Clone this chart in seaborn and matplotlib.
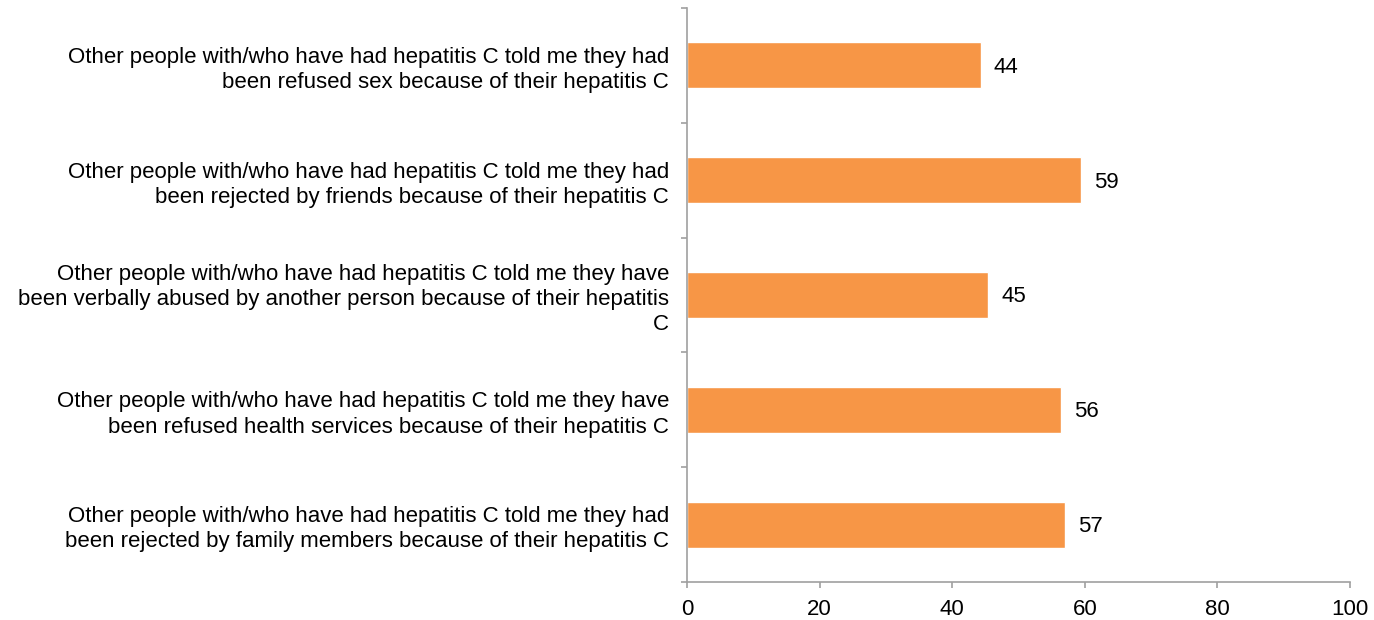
import matplotlib
matplotlib.use("Agg")
import matplotlib.pyplot as plt
import seaborn as sns
import pandas as pd
from matplotlib.ticker import FixedLocator

categories = [
    "Other people with/who have had hepatitis C told me they had\nbeen refused sex because of their hepatitis C",
    "Other people with/who have had hepatitis C told me they had\nbeen rejected by friends because of their hepatitis C",
    "Other people with/who have had hepatitis C told me they have\nbeen verbally abused by another person because of their hepatitis\nC",
    "Other people with/who have had hepatitis C told me they have\nbeen refused health services because of their hepatitis C",
    "Other people with/who have had hepatitis C told me they had\nbeen rejected by family members because of their hepatitis C",
]
values = [44.3, 59.4, 45.4, 56.4, 57.0]
value_labels = ["44", "59", "45", "56", "57"]
x_ticks = [0, 20, 40, 60, 80, 100]

sns.set_style("white")
plt.rcParams["font.family"] = ["Liberation Sans", "DejaVu Sans"]
plt.rcParams["xtick.bottom"] = True
plt.rcParams["ytick.left"] = True

df = pd.DataFrame({"category": categories, "value": values})

fig = plt.figure(figsize=(13.74, 6.2), dpi=100)
ax = fig.add_axes([687 / 1374, 1 - 582 / 620, (1350 - 687) / 1374, (582 - 8) / 620])

sns.barplot(data=df, x="value", y="category", orient="h", color="#F79646",
            saturation=1, width=0.4, ax=ax)

ax.set_xlim(0, 100)
ax.set_ylim(len(categories) - 0.5, -0.5)
ax.set_xticks(x_ticks)
ax.set_xticklabels([str(t) for t in x_ticks], fontsize=16, color="black")
ax.set_xlabel("")
ax.set_ylabel("")

# y labels at category centers without tick marks; tick marks at boundaries
ax.set_yticks(range(len(categories)))
ax.set_yticklabels(categories, fontsize=16, color="black", ha="right",
                   multialignment="right", linespacing=1.27)
ax.tick_params(axis="y", which="major", left=True, length=0, pad=13)
ax.yaxis.set_minor_locator(FixedLocator([i - 0.5 for i in range(len(categories) + 1)]))
ax.tick_params(axis="y", which="minor", left=True, length=4, width=1.2, color="#A0A0A0", direction="out")
ax.tick_params(axis="x", which="major", bottom=True, length=4, width=1.2, color="#A0A0A0",
               direction="out", pad=8)

for spine in ["top", "right"]:
    ax.spines[spine].set_visible(False)
for spine in ["left", "bottom"]:
    ax.spines[spine].set_color("#A0A0A0")
    ax.spines[spine].set_linewidth(1.2)

for i, (v, lab) in enumerate(zip(values, value_labels)):
    ax.annotate(lab, xy=(v, i), xytext=(13, -2), textcoords="offset pixels",
                ha="left", va="center", fontsize=16, color="black")

fig.savefig("out.png", dpi=100)
